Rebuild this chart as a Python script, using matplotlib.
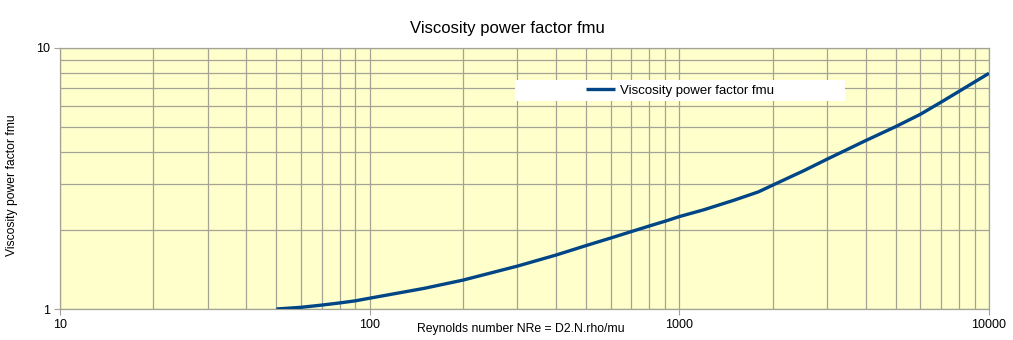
import matplotlib
matplotlib.use("Agg")
import matplotlib.pyplot as plt
from matplotlib.patches import Rectangle
from matplotlib.ticker import FixedLocator, NullFormatter

plt.rcParams['font.family'] = ['Liberation Sans', 'DejaVu Sans']

# Data
reynolds = [50, 60, 70, 80, 90, 100, 150, 200, 300, 400, 500, 600, 700, 800, 900, 1000,
            1200, 1500, 1800, 2000, 2300, 2500, 3000, 4000, 5000, 6000, 7000, 8000, 9000, 10000]
fmu = [1.0, 1.015, 1.035, 1.055, 1.075, 1.10, 1.20, 1.29, 1.46, 1.61, 1.75, 1.87, 1.98, 2.08, 2.17, 2.26,
       2.40, 2.61, 2.81, 2.98, 3.22, 3.37, 3.75, 4.42, 5.0, 5.57, 6.2, 6.82, 7.42, 8.0]
x_ticks = [10, 100, 1000, 10000]
x_ticklabels = ["10", "100", "1000", "10000"]
y_ticks = [1, 10]
y_ticklabels = ["1", "10"]
title = "Viscosity power factor fmu"
x_label = "Reynolds number NRe = D2.N.rho/mu"
y_label = "Viscosity power factor fmu"
series_name = "Viscosity power factor fmu"

W, H = 1013, 340
fig = plt.figure(figsize=(W / 100, H / 100), dpi=100)
L, R, T, B = 60, 989, 48, 309
ax = fig.add_axes([L / W, 1 - B / H, (R - L) / W, (B - T) / H])
ax.set_facecolor('#ffffcc')
grid_c = '#a3a396'

ax.set_xscale('log')
ax.set_yscale('log')
ax.set_xlim(10, 10000)
ax.set_ylim(1, 10)

line, = ax.plot(reynolds, fmu, color='#004586', lw=2.4, solid_capstyle='butt',
                solid_joinstyle='round', zorder=3)

ax.xaxis.set_major_locator(FixedLocator(x_ticks))
ax.set_xticklabels(x_ticklabels)
ax.yaxis.set_major_locator(FixedLocator(y_ticks))
ax.set_yticklabels(y_ticklabels)
minor_x = [m * 10 ** e for e in (1, 2, 3) for m in range(2, 10)]
minor_y = [m for m in range(2, 10)]
ax.xaxis.set_minor_locator(FixedLocator(minor_x))
ax.yaxis.set_minor_locator(FixedLocator(minor_y))
ax.xaxis.set_minor_formatter(NullFormatter())
ax.yaxis.set_minor_formatter(NullFormatter())
ax.tick_params(which='minor', length=0)
ax.tick_params(which='major', length=4, width=0.8, color=grid_c, labelsize=9,
               labelcolor='#000000', pad=3)
ax.grid(True, which='both', color=grid_c, lw=0.9)
ax.set_axisbelow(True)
for s in ax.spines.values():
    s.set_color(grid_c)
    s.set_linewidth(0.9)

fig.text(507 / W, 1 - 28 / H, title, ha='center', va='center', fontsize=12)
fig.text(521 / W, 1 - 329 / H, x_label, ha='center', va='center', fontsize=8.8)
fig.text(12 / W, 1 - 185 / H, y_label, ha='center', va='center', rotation=90, fontsize=8.7)

# legend box
fig.patches.append(Rectangle((515 / W, 1 - 101 / H), 330 / W, 21 / H,
                             transform=fig.transFigure, facecolor='white',
                             edgecolor='none', zorder=4))
leg = fig.legend([line], [series_name], loc='center', frameon=False,
                 bbox_to_anchor=(680 / W, 1 - 91 / H), fontsize=9.5,
                 handlelength=2.2, handletextpad=0.4)
leg.set_zorder(5)

fig.savefig('out.png', dpi=100)
